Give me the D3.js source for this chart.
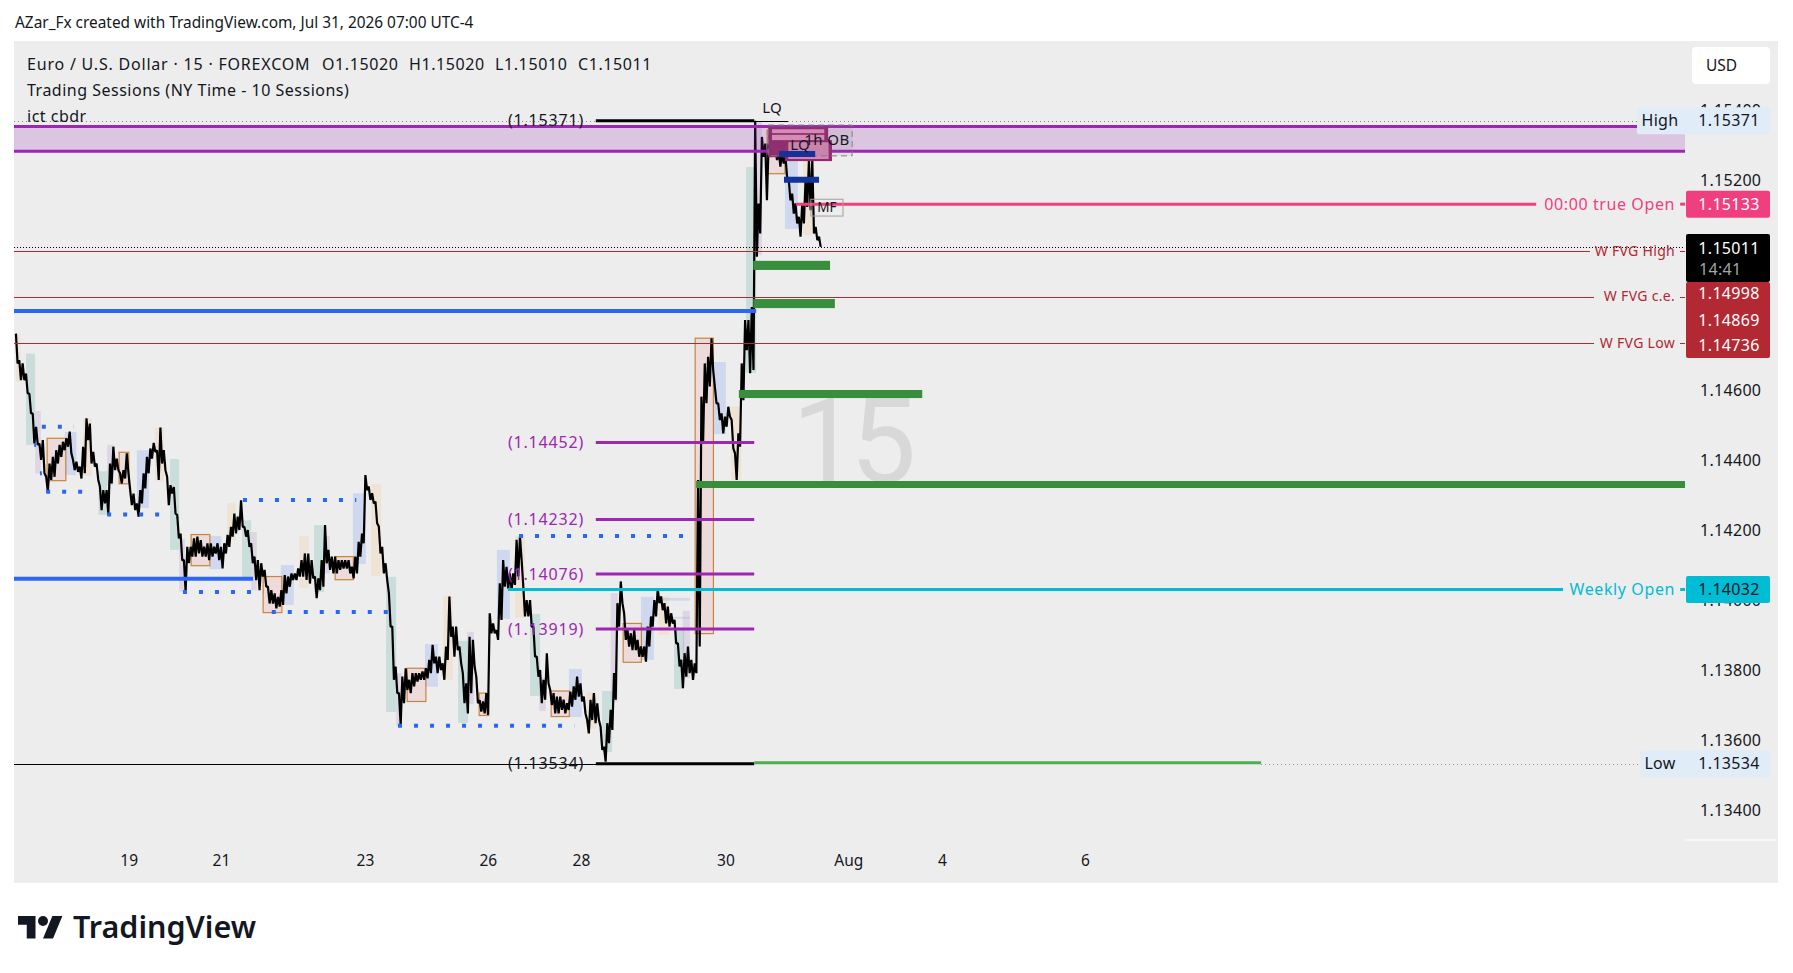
<!DOCTYPE html>
<html>
<head>
<meta charset="utf-8">
<script src="https://cdn.jsdelivr.net/npm/d3@7/dist/d3.min.js"></script>
<style>
  body { margin: 0; background: #fff; }
  text { font-family: "Noto Sans", sans-serif; fill: #131722; }
</style>
</head>
<body>
<div class="chartBox"></div>
<script>
// EURUSD 15m, price in points (1.15020 = 115020), x in 15 minute bars. one high/low pair every 7 bars
var highs = [114763,114687,114678,114649,114592,114535,114497,114449,114459,114354,114392,114411,114430,114445,114454,114464,114483,114402,114397,114383,
  114440,114521,114506,114425,114392,114326,114316,114316,114392,114440,114406,114364,114373,114421,114316,114306,114278,114316,114364,114411,
  114435,114451,114430,114495,114430,114354,114330,114325,114245,114192,114116,114154,114154,114178,114183,114173,114154,114164,114164,114154,
  114164,114154,114164,114188,114211,114249,114240,114287,114211,114202,114164,114126,114116,114107,114088,114040,114030,114021,114011,114030,
  114073,114069,114078,114078,114092,114116,114135,114135,114116,114069,114064,114116,114216,114145,114126,114126,114116,114116,114116,114116,
  114097,114126,114168,114192,114359,114326,114307,114283,114212,114154,114107,114021,113926,113812,113736,113783,113807,113774,113793,113793,
  113793,113798,113807,113831,113874,113840,113840,113821,113869,114012,113926,113926,113869,113793,113764,113897,113888,113783,113716,113712,
  113736,113964,113935,113916,114050,114116,114097,114078,114078,114174,114183,114040,114002,114002,113926,113840,113802,113774,113850,113745,
  113736,113726,113726,113717,113707,113740,113755,113783,113764,113726,113659,113717,113736,113707,113640,113583,113650,113688,113793,113993,
  114055,113964,113916,113907,113916,113888,113869,113869,113926,113955,114002,114035,114012,113993,113983,113964,113945,113878,113831,113850,
  113869,113831,113821,114345,114583,114678,114697,114750,114612,114564,114535,114526,114554,114516,114421,114478,114678,114802,114802,114839,
  115371,115135,115325,115306,115306,115306,115297,115287,115278,115268,115202,115163,115135,115097,115135,115202,115259,115259,115068,115040];
var lows = [114678,114630,114630,114592,114535,114449,114445,114402,114364,114311,114345,114354,114392,114411,114430,114440,114421,114373,114368,114349,
  114364,114459,114392,114383,114345,114259,114278,114245,114335,114373,114373,114335,114349,114364,114273,114259,114240,114278,114321,114364,
  114406,114425,114345,114392,114373,114273,114306,114249,114178,114116,114026,114107,114126,114126,114135,114126,114126,114116,114126,114135,
  114116,114092,114135,114154,114183,114192,114202,114211,114183,114154,114107,114059,114030,114069,114040,113992,113992,113978,113983,113988,
  114021,114040,114059,114059,114069,114069,114059,114049,114064,114007,114030,114040,114107,114088,114078,114078,114088,114092,114092,114078,
  114064,114078,114126,114164,114316,114288,114278,114221,114135,114078,114059,113926,113774,113736,113645,113707,113745,113736,113755,113769,
  113774,113774,113778,113793,113821,113793,113802,113774,113831,113897,113840,113859,113821,113707,113678,113736,113812,113707,113683,113678,
  113674,113907,113907,113888,113945,114040,114035,114030,114045,114069,114116,113955,113955,113926,113840,113783,113707,113717,113764,113702,
  113678,113678,113688,113678,113688,113697,113717,113726,113712,113678,113621,113659,113650,113659,113574,113540,113593,113631,113717,113926,
  113993,113888,113869,113859,113859,113840,113840,113826,113869,113926,113955,113993,113973,113935,113926,113935,113878,113812,113750,113783,
  113793,113774,113793,113869,114450,114564,114612,114659,114564,114516,114478,114497,114526,114435,114345,114440,114573,114716,114650,114659,
  114983,115049,115268,115144,115268,115268,115259,115240,115249,115211,115144,115106,115078,115040,115078,115125,115116,115049,115030,115011];
var firstBar = 4, barStep = 7;

// session boxes: [from bar, to bar, top, bottom]
var asiaBoxes = [[4,13,114763,114625],[144,162,114521,114357],[294,312,114495,114341],[444,462,114279,114173],[594,614,114185,114036],[744,765,114333,114071],
  [894,914,114014,113774],[1044,1064,114185,113951],[1193,1214,113739,113634],[1343,1364,114012,113902],[1494,1515,114556,114345],[1644,1663,115259,115044]];
var londonBoxes = [[25,44,114706,114445],[176,194,114370,114245],[325,344,114405,114145],[475,494,114230,114059],[625,646,114216,114025],[775,796,114068,113682],
  [925,946,113885,113651],[1075,1096,113962,113728],[1225,1246,113742,113568],[1375,1396,113922,113748],[1525,1546,115239,114651]];
var lunchBoxes = [[44,56,114542,114364],[194,207,114445,114330],[344,356,114178,114026],[494,506,114196,114030],[646,658,114185,114078],[796,808,113793,113643],
  [944,958,113911,113705],[1094,1108,113781,113685],[1243,1258,114022,113711],[1393,1408,113971,113779],[1544,1558,115368,114987]];
var pmBoxes = [[106,130,114482,114359],[256,281,114430,114265],[407,432,114185,114090],[556,583,114102,113988],[706,733,114307,114105],[856,883,113876,113754],
  [1006,1033,114145,113948],[1156,1183,113805,113668],[1306,1333,114011,113831],[1339,1408,114008,114000],[1356,1408,113954,113949],[1457,1483,114682,114476],[1606,1633,115268,115062]];
var cbdrBoxes = [[69,108,114464,114343],[219,239,114424,114334],[369,408,114189,114100],[519,558,114069,113966],[669,707,114126,114060],[819,858,113807,113712],
  [969,989,113736,113672],[1119,1157,113742,113669],[1269,1307,113935,113824],[1419,1457,114750,113906],[1569,1606,115344,115220]];

// liquidity levels: [from bar, to bar, price]
var blueLevels = [[0,1546,114828],[0,498,114063]];
var blueDotted = [[58,125,114497],[42,46,114445],[54,58,114364],[67,167,114311],[194,327,114246],[477,713,114288],[352,519,114025],[537,779,113968],[800,1167,113643],[1052,1417,114185]];
var pdLevels = [[1212,1542,114452],[1212,1542,114232],[1212,1542,114076],[1212,1542,113919]];
var pdLabels = ['(1.14452)','(1.14232)','(1.14076)','(1.13919)'];
var greenZones = [[1540,1700,114971,114945],[1540,1710,114862,114836],[1510,1892,114602,114579],[1421,3481,114342,114322]];
var obBoxes = [[1571,1696,115353,115267],[1606,1704,115316,115256]];
var obRows = [[1579,1688,115347,115336],[1579,1688,115331,115316]];
var navyLevels = [[1594,1669,115276],[1604,1677,115203]];

var fvgPrices = [115000,114869,114736];
var fvgNames = ['W FVG High','W FVG c.e.','W FVG Low'];
var priceTicks = [115400,115200,114600,114400,114200,114000,113800,113600,113400];
var dayLabels = ['19','21','23','26','28','30','Aug','4','6'];
var dayBars = [239,431,731,987,1181,1482,1738,1933,2231];

var w = 1793, h = 973;
var chartRight = 1685;

var x = d3.scaleLinear().domain([0, 3481]).range([14, chartRight]);
var y = d3.scaleLinear().domain([113400, 115200]).range([810.7, 180.7]);

var svg = d3.select('div.chartBox').append('svg').attr('width', w).attr('height', h).style('display', 'block');

svg.append('rect').attr('x', 14).attr('y', 41).attr('width', 1764).attr('height', 842).attr('fill', '#ededed');

// big interval watermark
svg.append('text').attr('x', 850).attr('y', 482).attr('text-anchor', 'middle')
  .style('font-family', 'Roboto').style('font-size', '118px').style('letter-spacing', '-8px').style('fill', '#d8d8d8').text('15');

function drawBoxes(data, fill, stroke) {
  svg.append('g').selectAll('rect').data(data).enter().append('rect')
    .attr('x', function(d) { return x(d[0]) })
    .attr('width', function(d) { return x(d[1]) - x(d[0]) })
    .attr('y', function(d) { return y(d[2]) })
    .attr('height', function(d) { return y(d[3]) - y(d[2]) })
    .attr('fill', fill)
    .attr('stroke', stroke || 'none')
    .attr('stroke-width', stroke ? 1.2 : 0);
}

function drawLevels(data, color, width, dash) {
  var thin = width < 2;
  svg.append('g').selectAll('line').data(data).enter().append('line')
    .attr('x1', function(d) { return x(d[0]) })
    .attr('x2', function(d) { return x(d[1]) })
    .attr('y1', function(d) { return thin ? Math.round(y(d[2])) : y(d[2]) })
    .attr('y2', function(d) { return thin ? Math.round(y(d[2])) : y(d[2]) })
    .attr('stroke', color)
    .attr('stroke-width', width)
    .attr('stroke-dasharray', dash || null)
    .attr('shape-rendering', thin ? 'crispEdges' : null);
}

function label(px, py, str, color, size, anchor, spacing) {
  return svg.append('text').attr('x', px).attr('y', py).attr('dy', '.35em')
    .attr('text-anchor', anchor || 'start').style('fill', color || '#131722').style('font-size', (size || 15) + 'px')
    .style('letter-spacing', (spacing || 0) + 'px').text(str);
}

drawBoxes(asiaBoxes, 'rgba(255,152,0,.1)');
drawBoxes(londonBoxes, 'rgba(0,137,123,.15)');
drawBoxes(lunchBoxes, 'rgba(130,60,180,.13)');
drawBoxes(pmBoxes, 'rgba(41,98,255,.15)');
drawBoxes(cbdrBoxes, 'rgba(242,54,69,.1)', '#c9853e');

// price line, zigzag through each high and low
var pts = [];
highs.forEach(function(hi, i) {
  var bar = firstBar + i * barStep;
  pts.push([bar, hi]);
  pts.push([bar + barStep / 2, lows[i]]);
});
var line = d3.line().x(function(d) { return x(d[0]) }).y(function(d) { return y(d[1]) });
svg.append('path').attr('d', line(pts)).attr('fill', 'none').attr('stroke', '#000').attr('stroke-width', 2.2).attr('stroke-linejoin', 'bevel');

// premium band
drawBoxes([[0, 3481, 115355, 115284]], 'rgba(156,39,176,.2)');
drawLevels([[0, 3481, 115355], [0, 3481, 115284]], '#9c27b0', 3);

// order block
drawBoxes(obBoxes, '#94286f');
drawBoxes(obRows, '#dd8fbe');
drawBoxes([[1613,1697,115310,115262]], '#d584b4');
svg.append('g').selectAll('rect').data([[1571,1746,115359,115271]]).enter().append('rect')
  .attr('x', function(d) { return x(d[0]) })
  .attr('width', function(d) { return x(d[1]) - x(d[0]) })
  .attr('y', function(d) { return y(d[2]) })
  .attr('height', function(d) { return y(d[3]) - y(d[2]) })
  .attr('fill', 'rgba(120,120,120,.1)')
  .attr('stroke', '#808080').attr('stroke-dasharray', '6 4');
drawLevels(navyLevels, '#11339b', 6);

// high / low dotted
drawLevels([[0,1212,115371],[1612,3388,115371]], '#888', 1, '1 3');
drawLevels([[2598,3388,113534]], '#999', 1, '1 3');
drawLevels([[0,1212,113534]], '#000', 1);
drawLevels([[1212,1542,113534],[1212,1542,115371]], '#000', 3);
drawLevels([[1546,1612,115371]], '#000', 1);
drawLevels([[1542,2598,113537]], '#4caf50', 3);

drawLevels(blueLevels, '#2c66f6', 4);
drawLevels(blueDotted, '#2c66f6', 4, '4 12');
drawLevels(pdLevels, '#9c27b0', 3);

greenZones.forEach(function(d) { drawBoxes([d], '#388e3c') });

// FVG lines with a gap for the label
drawLevels([[0,3283,fvgPrices[0]],[0,3292,fvgPrices[1]],[0,3292,fvgPrices[2]]], '#b22833', 1);
drawLevels(fvgPrices.map(function(p) { return [3471,3481,p] }), '#b22833', 1);
drawLevels([[0,3481,115011]], '#000', 1, '1 2');

drawLevels([[1629,3171,115133],[3471,3481,115133]], '#ef3f7f', 3);
drawLevels([[1029,3227,114032],[3471,3481,114032]], '#00bcd4', 3);

// level labels
label(546, y(115371), '(1.15371)', '#131722', 16, 'middle', 0.8);
label(546, y(113534), '(1.13534)', '#131722', 16, 'middle', 0.8);
pdLevels.forEach(function(d, i) { label(546, y(d[2]), pdLabels[i], '#9c27b0', 16, 'middle', 0.8) });
label(772, 108, 'LQ', '#131722', 15, 'middle');
label(800, 145, 'LQ', '#131722', 15, 'middle');
label(827, 140, '1h OB', '#131722', 15, 'middle', 0.4);
svg.append('rect').attr('x', x(1660)).attr('y', y(115147)).attr('width', x(1727) - x(1660)).attr('height', y(115099) - y(115147))
  .attr('fill', 'none').attr('stroke', '#a0a0a0');
label(827, 207, 'MF', '#131722', 13.5, 'middle');

label(1675, y(fvgPrices[0]), fvgNames[0], '#b22833', 14, 'end', 0.3);
label(1675, y(fvgPrices[1]), fvgNames[1], '#b22833', 14, 'end', 0.3);
label(1675, y(fvgPrices[2]), fvgNames[2], '#b22833', 14, 'end', 0.3);
label(1675, y(115133), '00:00 true Open', '#ef3f7f', 16, 'end', 0.6);
label(1675, y(114032), 'Weekly Open', '#00bcd4', 16, 'end', 0.6);

// axes
var yAxis = d3.axisRight(y).tickValues(priceTicks).tickSize(0).tickPadding(15)
  .tickFormat(function(d) { return d3.format('.5f')(d / 1e5) });
var yg = svg.append('g').attr('transform', 'translate(' + chartRight + ',0)').call(yAxis);
yg.select('.domain').remove();
yg.selectAll('text').style('font-size', '16px').style('font-family', '"Noto Sans"').style('letter-spacing', '0.3px');

var xAxis = d3.axisBottom(x).tickValues(dayBars).tickSize(0).tickPadding(0)
  .tickFormat(function(d, i) { return dayLabels[i] });
var xg = svg.append('g').attr('transform', 'translate(0,855)').call(xAxis);
xg.select('.domain').remove();
xg.selectAll('text').style('font-size', '15.5px').style('font-family', '"Noto Sans"');

svg.append('line').attr('x1', chartRight).attr('x2', 1777).attr('y1', 840).attr('y2', 840).attr('stroke', '#fff');

// price tags
function tag(x0, py, hgt, fill, txt, txtColor) {
  svg.append('rect').attr('x', x0).attr('y', py - hgt / 2).attr('width', 1770 - x0).attr('height', hgt).attr('rx', 2).attr('fill', fill);
  return label(1729, py, txt, txtColor, 16, 'middle', 0.3);
}
tag(1637, y(115371), 27, '#e1ecf9', '1.15371', '#131722');
label(1660, y(115371), 'High', '#131722', 16, 'middle', 0.3);
tag(1640, y(113534), 27, '#e1ecf9', '1.13534', '#131722');
label(1660, y(113534), 'Low', '#131722', 16, 'middle', 0.3);
tag(1686, y(115133), 27, '#ef3f7f', '1.15133', '#fff');
tag(1686, y(114032), 27, '#00bcd4', '1.14032', '#131722');
tag(1686, 258, 48, '#000', '1.15011', '#fff').attr('y', 248);
label(1699, 269, '14:41', '#a6a6a6', 16, 'start', 0.3);
tag(1686, 320, 76, '#b22833', '1.14869', '#fff');
label(1729, 293, '1.14998', '#fff', 16, 'middle', 0.3);
label(1729, 345, '1.14736', '#fff', 16, 'middle', 0.3);

// USD button
svg.append('rect').attr('x', 1692).attr('y', 47).attr('width', 78).attr('height', 37).attr('rx', 4).attr('fill', '#fff');
label(1706, 66, 'USD', '#131722', 15.5);

// header + legend
label(15, 23, 'AZar_Fx created with TradingView.com, Jul 31, 2026 07:00 UTC-4', '#131722', 15.4);
label(27, 64, 'Euro / U.S. Dollar · 15 · FOREXCOM', '#131722', 16, 'start', 0.8);
label(322, 64, 'O1.15020', '#131722', 16, 'start', 0.6);
label(409, 64, 'H1.15020', '#131722', 16, 'start', 0.6);
label(495, 64, 'L1.15010', '#131722', 16, 'start', 0.6);
label(578, 64, 'C1.15011', '#131722', 16, 'start', 0.6);
label(27, 90, 'Trading Sessions (NY Time - 10 Sessions)', '#131722', 16, 'start', 0.5);
label(27, 116, 'ict cbdr', '#131722', 16, 'start', 0.5);

// logo
var logo = svg.append('g').attr('transform', 'translate(18,911) scale(1.25)');
logo.append('path').attr('d', 'M14 22H7V11H0V4h14v18zM28 22h-8l7.5-18h8L28 22z').attr('fill', '#131722');
logo.append('circle').attr('cx', 20).attr('cy', 8).attr('r', 4).attr('fill', '#131722');
label(73, 927, 'TradingView', '#131722', 30.5).style('font-weight', 600);
</script>
</body>
</html>
